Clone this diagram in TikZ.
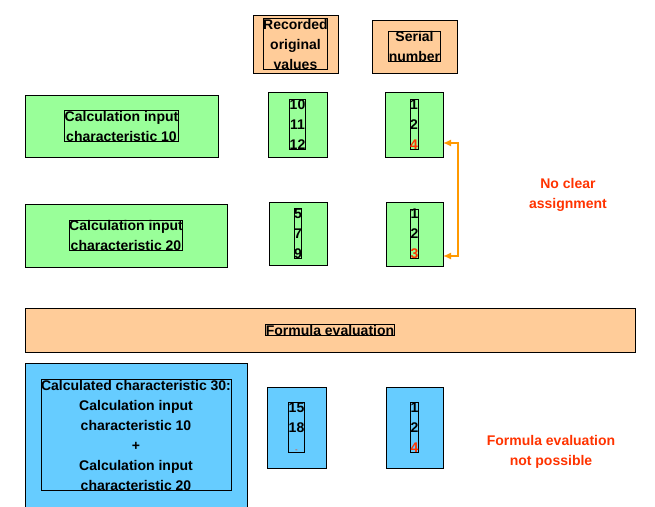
\documentclass[tikz,border=0pt]{standalone}
\usepackage{fontspec}
\setmainfont{Liberation Sans}
\usetikzlibrary{arrows.meta}
\definecolor{gr}{HTML}{99FF99}
\definecolor{pe}{HTML}{FFCC99}
\definecolor{bl}{HTML}{66CCFF}
\definecolor{rd}{HTML}{FF3300}
\definecolor{og}{HTML}{FF9900}
\begin{document}
\begin{tikzpicture}[x=1pt,y=-1pt,
 bx/.style={draw=black,line width=0.8pt,align=center,font=\fontsize{14}{20}\selectfont\bfseries,inner sep=0pt},
 txt/.style={align=center,font=\fontsize{14}{20}\selectfont\bfseries,text=rd}]
\useasboundingbox (0,0) rectangle (655,506);
\newcommand\bxx[6]{\node[bx,fill=#5,minimum width=#3-#1,minimum height=#4-#2] (#6) at ({(#1+#3)/2},{(#2+#4)/2}) {};}
\bxx{253}{15}{338}{73}{pe}{h1}\node[bx] at (h1) {Recorded\\original\\values};
\bxx{372}{20}{457}{73}{pe}{h2}\node[bx] at (h2) {Serial\\number};
\bxx{25}{95}{218}{157}{gr}{c1}\node[bx] at (c1) {Calculation input\\characteristic 10};
\bxx{268}{92}{327}{157}{gr}{v1}\node[bx] at (v1) {10\\11\\12};
\bxx{385}{92}{443}{157}{gr}{s1}\node[bx] at (s1) {1\\2\\\textcolor{rd}{4}};
\bxx{25}{204}{227}{267}{gr}{c2}\node[bx] at (c2) {Calculation input\\characteristic 20};
\bxx{269}{202}{327}{265}{gr}{v2}\node[bx] at (v2) {5\\7\\9};
\bxx{386}{202}{443}{266}{gr}{s2}\node[bx] at (s2) {1\\2\\\textcolor{rd}{3}};
\bxx{25}{308}{635}{352}{pe}{fe}\node[bx] at (fe) {Formula evaluation};
\bxx{25}{363}{247}{507}{bl}{c3}\node[bx] at (c3) {Calculated characteristic 30:\\Calculation input\\characteristic 10\\+\\Calculation input\\characteristic 20};
\bxx{267}{387}{326}{468}{bl}{v3}\node[bx] at (v3) {15\\18\\\textcolor{rd}{\normalfont\fontsize{8}{20}\selectfont -}};
\bxx{386}{387}{443}{468}{bl}{s3}\node[bx] at (s3) {1\\2\\\textcolor{rd}{4}};
\coordinate (a1) at (443,143);
\coordinate (a2) at (443,256);
\draw[og,line width=1.5pt,{Latex[length=8pt,width=7pt]}-{Latex[length=8pt,width=7pt]}] (a1) -- (458,143) -- (458,256) -- (a2);
\node[txt] (t1) at (568,195) {No clear\\assignment};
\node[txt] (t2) at (551,452) {Formula evaluation\\not possible};
\end{tikzpicture}
\end{document}
